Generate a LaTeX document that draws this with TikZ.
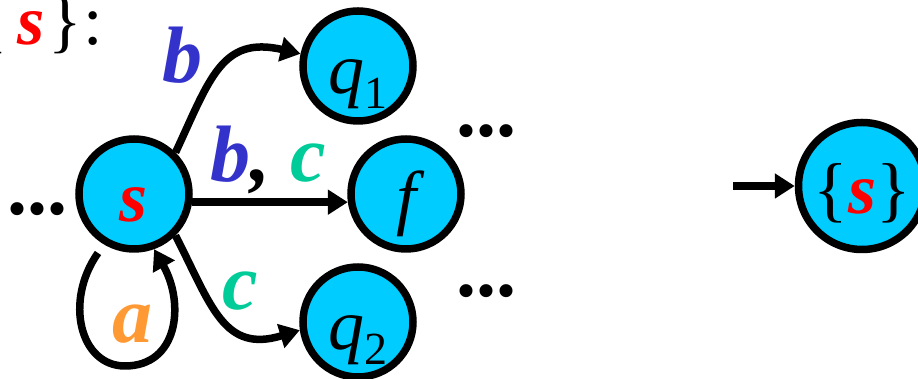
\documentclass[tikz,border=0pt]{standalone}
\usepackage{fontspec}
\setmainfont{Liberation Serif}
\usetikzlibrary{arrows.meta,positioning}
\definecolor{FACyan}{HTML}{00CCFF}
\definecolor{FARed}{HTML}{FF0000}
\definecolor{FABlue}{HTML}{3333CC}
\definecolor{FAGreen}{HTML}{00CC99}
\definecolor{FAOrange}{HTML}{FF9933}
\newcommand{\stsym}[1]{{\color{FARed}\bfseries\itshape #1}}
\newcommand{\stsub}[2]{{\itshape #1}\raisebox{-15pt}{\fontsize{46}{46}\selectfont #2}}
\tikzset{
  fastate/.style={circle, draw=black, fill=FACyan, line width=7.5pt,
                  minimum size=110pt, inner sep=0pt, text height=56pt, text depth=0pt,
                  font=\fontsize{72}{72}\selectfont},
  fatrans/.style={line width=7.5pt, -{Triangle[length=20pt,width=24pt]}},
  falabel/.style={anchor=base, font=\fontsize{80}{80}\selectfont\bfseries\itshape},
  fadots/.style={anchor=base, font=\fontsize{80}{80}\selectfont\bfseries},
}

\begin{document}
\begin{tikzpicture}[x=1pt,y=1pt]
  \useasboundingbox (0,0) rectangle (918,379);
  % states of the NFA
  \node[fastate] (s) at (134,185) {\stsym{s}};
  \node[fastate] (q1) at (358,313) {\stsub{q}{1}};
  \node[fastate] (f) at (406,185) {\itshape f};
  \node[fastate] (q2) at (358,57) {\stsub{q}{2}};
  \node[fadots] (dotsL) at (38,164) {...};
  \node[fadots] (dotsU) at (486,242) {...};
  \node[fadots] (dotsD) at (486,82) {...};
  % transitions
  \coordinate (loopstart) at (98,126);
  \coordinate (loopbot) at (125,13);
  \draw[fatrans] (s.45) to[out=65,in=167,looseness=1.3] (q1.168);
  \draw[fatrans] (s.-8) -- (f.188);
  \draw[fatrans] (s.-45) to[out=-63,in=197,looseness=1.3] (q2.188);
  \draw[fatrans] (loopstart) .. controls (64,78) and (80,13) .. (loopbot)
    .. controls (178,13) and (185,75) .. (s.-70);
  \node[falabel, text=FABlue] (lblb) at (182,296) {b};
  \node[falabel] (lblbc) at (268,197) {\textcolor{FABlue}{b}, \textcolor{FAGreen}{c}};
  \node[falabel, text=FAGreen] (lblc) at (240,69) {c};
  \node[falabel, text=FAOrange] (lbla) at (132,36) {a};
  % start state of the DFA
  \node[anchor=base east, font=\fontsize{70}{70}\selectfont] (subset) at (107,334)
    {\{\kern9pt\stsym{s}\kern4pt\}\kern2pt:};
  \node[fastate, minimum size=127pt] (S0) at (862,193) {\{\stsym{s}\}};
  \coordinate (init) at (733,193);
  \draw[fatrans] (init) -- (S0);
\end{tikzpicture}
\end{document}
